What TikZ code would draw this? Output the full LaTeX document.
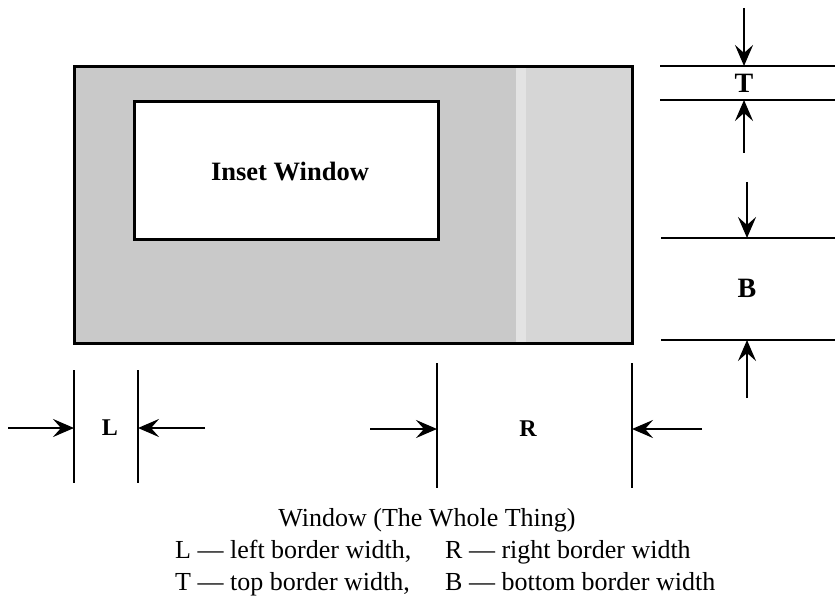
\documentclass[tikz,border=0pt]{standalone}
\usepackage{fontspec}
\setmainfont{Liberation Serif}
\usetikzlibrary{arrows.meta}
\tikzset{
  frameline/.style={line width=2.6pt},
  dimline/.style={line width=2.8pt},
  arr/.style={line width=2.6pt,-{Stealth[length=21pt,width=18pt,inset=8pt]}},
  biglabel/.style={font=\bfseries\fontsize{28}{32}\selectfont, inner sep=0pt},
  smlabel/.style={font=\bfseries\fontsize{24}{28}\selectfont, inner sep=0pt},
  caption/.style={font=\fontsize{26}{30}\selectfont, inner sep=0pt},
}
\begin{document}
\begin{tikzpicture}[x=1pt,y=-1pt]
\useasboundingbox (0,0) rectangle (835,596);
% whole window with stippled border
\fill[black!21] (73,65) rectangle (518,342);
\fill[black!16] (518,65) rectangle (631,342);
\fill[black!11] (516,65) rectangle (526,342);
\node[draw, frameline, minimum width=558pt, minimum height=277pt, inner sep=0pt, anchor=north west] (win) at (73,65) {};
% inset window
\node[draw, frameline, fill=white, minimum width=304pt, minimum height=138pt, inner sep=0pt, anchor=north west] (inset) at (133,100) {};
\node[font=\bfseries\fontsize{26.5}{30}\selectfont, inner sep=0pt] (insettxt) at (290,172) {Inset Window};

% right dimension lines (T and B)
\coordinate (t1a) at (660,66);  \coordinate (t1b) at (835,66);
\coordinate (t2a) at (660,100); \coordinate (t2b) at (835,100);
\coordinate (b1a) at (661,238); \coordinate (b1b) at (835,238);
\coordinate (b2a) at (661,340); \coordinate (b2b) at (835,340);
\draw[dimline] (t1a) -- (t1b);
\draw[dimline] (t2a) -- (t2b);
\draw[dimline] (b1a) -- (b1b);
\draw[dimline] (b2a) -- (b2b);
\coordinate (tds) at (744,8);   \coordinate (tde) at (744,66);
\coordinate (tus) at (744,153); \coordinate (tue) at (744,100);
\coordinate (bds) at (747,182); \coordinate (bde) at (747,238);
\coordinate (bus) at (747,398); \coordinate (bue) at (747,340);
\draw[arr] (tds) -- (tde);
\draw[arr] (tus) -- (tue);
\draw[arr] (bds) -- (bde);
\draw[arr] (bus) -- (bue);
\node[biglabel] (T) at (744,83) {T};
\node[biglabel] (B) at (747,288) {B};

% bottom dimension lines (L and R)
\coordinate (l1a) at (74,370);  \coordinate (l1b) at (74,483);
\coordinate (l2a) at (138,370); \coordinate (l2b) at (138,483);
\coordinate (r1a) at (437,363); \coordinate (r1b) at (437,488);
\coordinate (r2a) at (632,363); \coordinate (r2b) at (632,488);
\draw[dimline] (l1a) -- (l1b);
\draw[dimline] (l2a) -- (l2b);
\draw[dimline] (r1a) -- (r1b);
\draw[dimline] (r2a) -- (r2b);
\coordinate (lls) at (8,428);   \coordinate (lle) at (74,428);
\coordinate (lrs) at (205,428); \coordinate (lre) at (138,428);
\coordinate (rls) at (370,429); \coordinate (rle) at (437,429);
\coordinate (rrs) at (702,429); \coordinate (rre) at (632,429);
\draw[arr] (lls) -- (lle);
\draw[arr] (lrs) -- (lre);
\draw[arr] (rls) -- (rle);
\draw[arr] (rrs) -- (rre);
\node[smlabel] (L) at (110,428) {L};
\node[smlabel] (R) at (528,429) {R};

% caption
\node[caption, anchor=base] (cap1) at (427,526) {Window (The Whole Thing)};
\node[caption, anchor=base west] (cap2a) at (175,558) {L — left border width,};
\node[caption, anchor=base west] (cap2b) at (445,558) {R — right border width};
\node[caption, anchor=base west] (cap3a) at (175,590) {T — top border width,};
\node[caption, anchor=base west] (cap3b) at (445,590) {B — bottom border width};
\end{tikzpicture}
\end{document}
